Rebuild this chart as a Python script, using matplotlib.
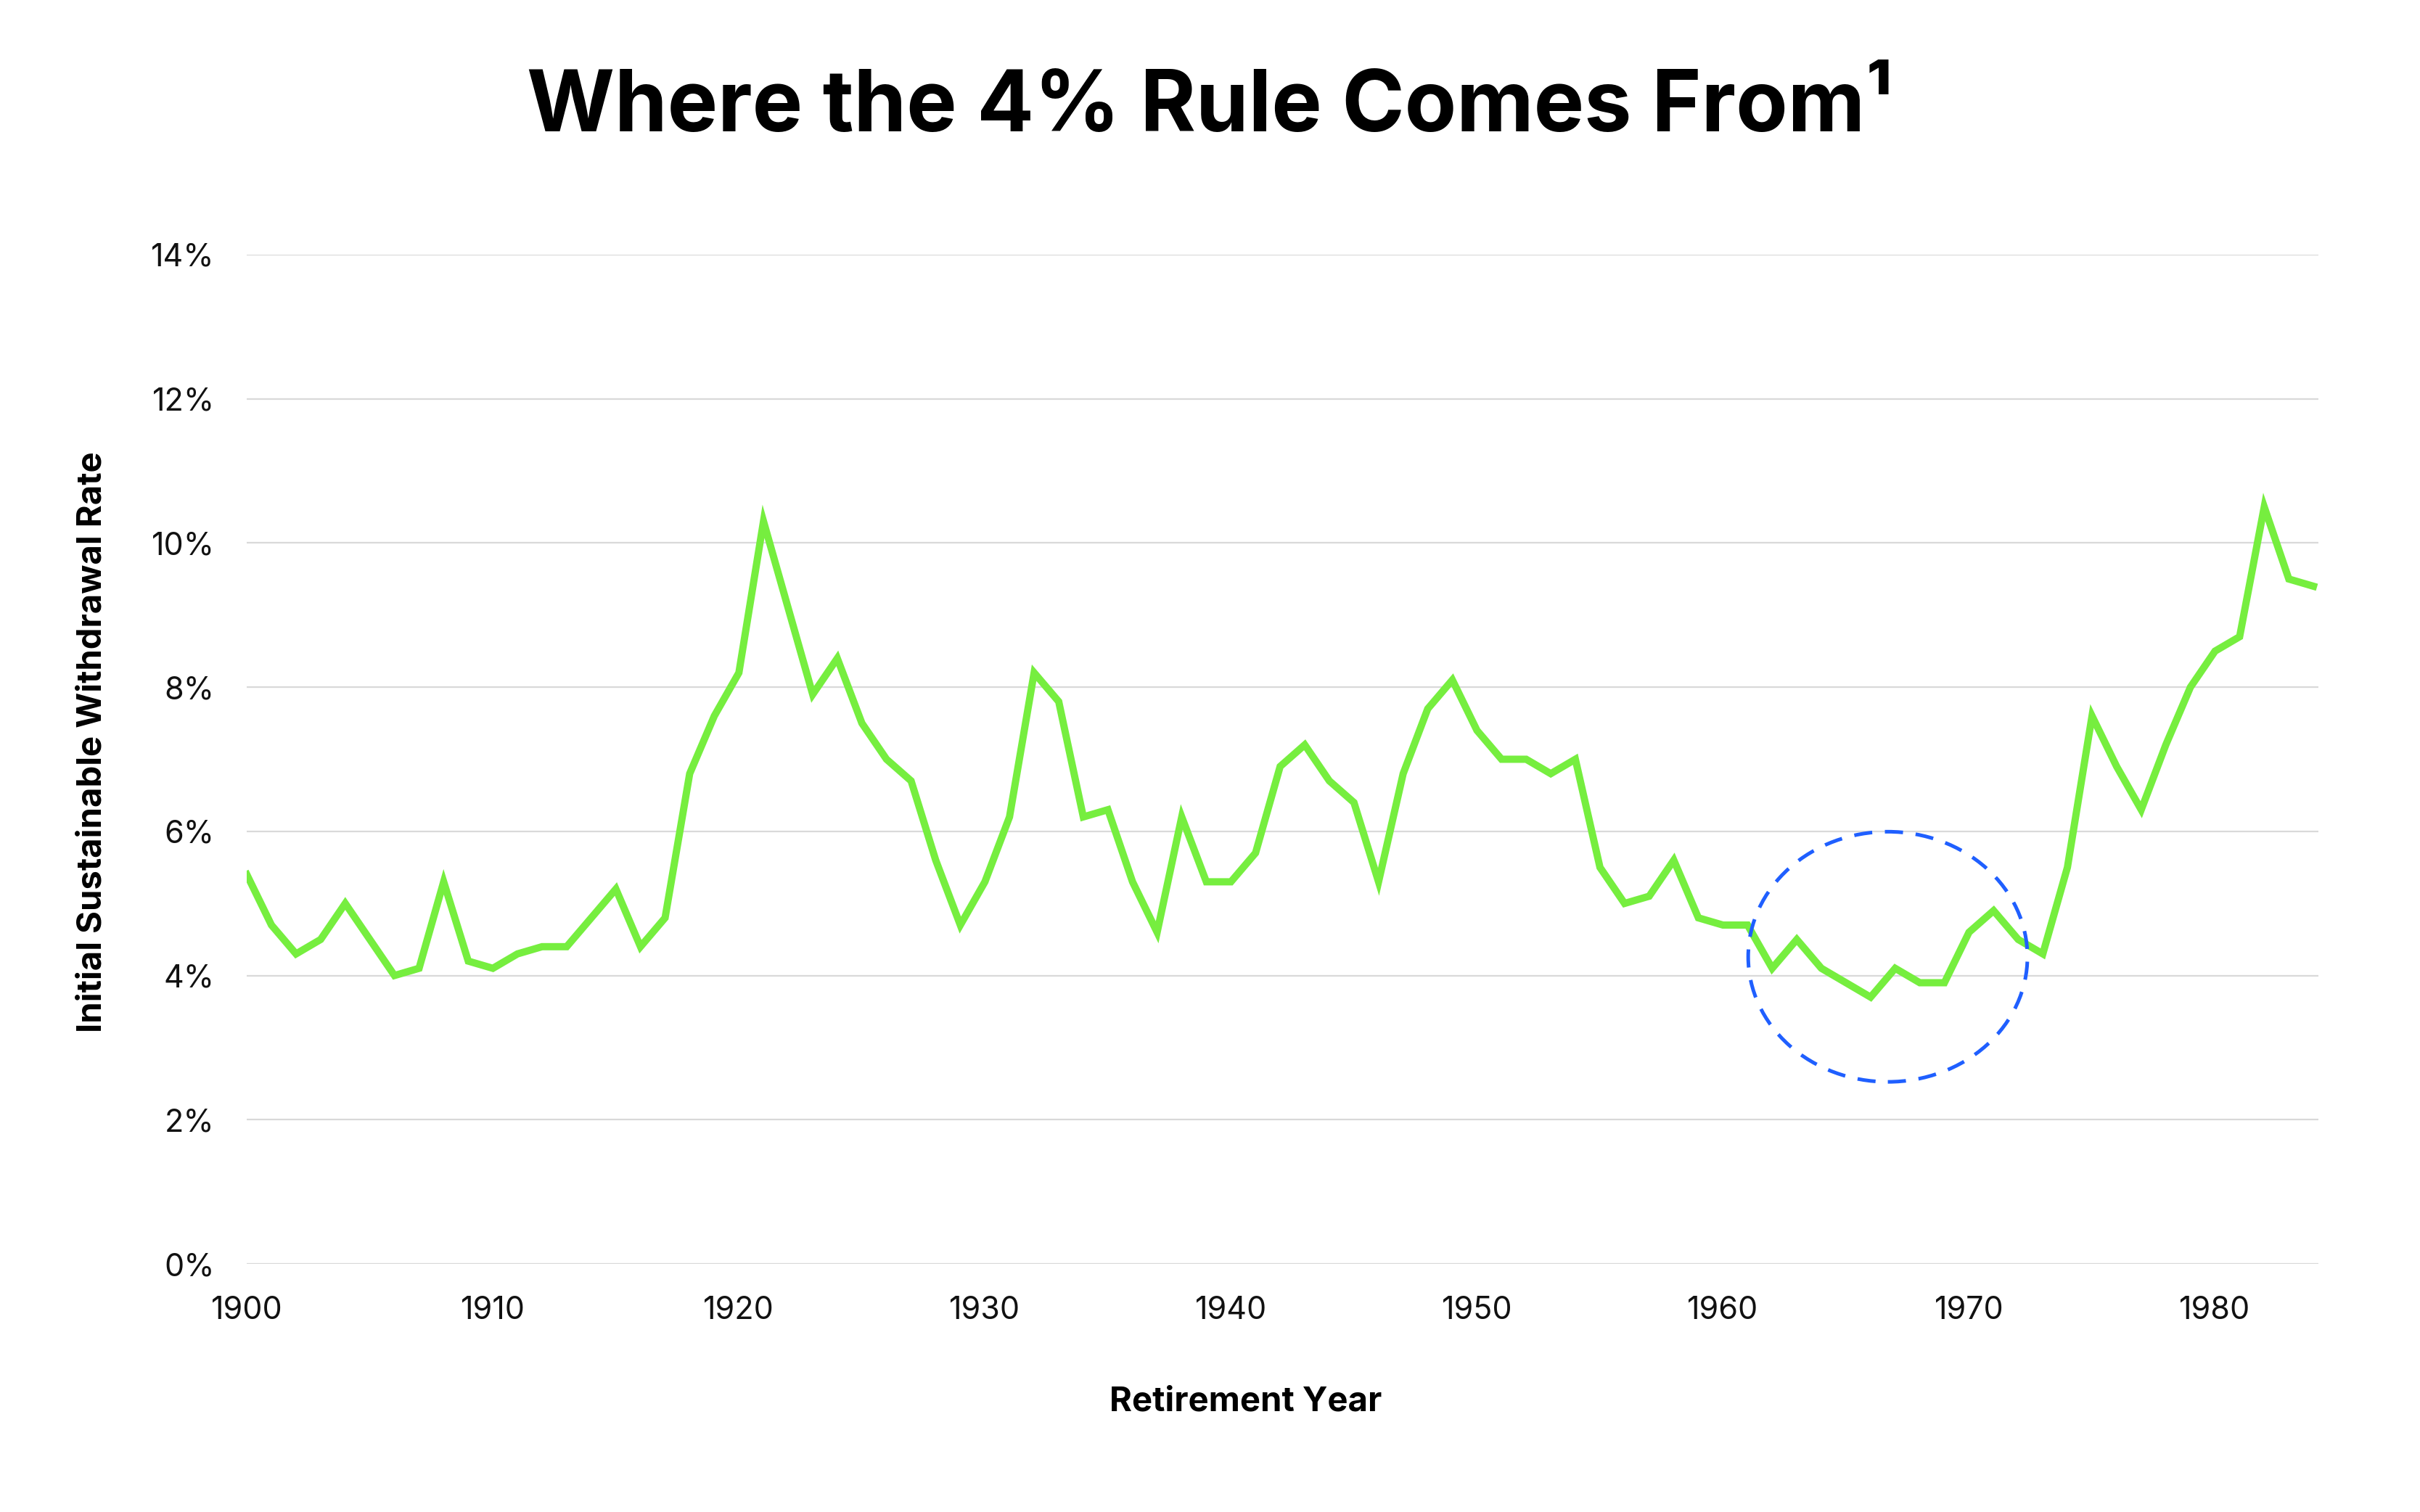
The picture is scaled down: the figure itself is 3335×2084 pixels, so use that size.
import matplotlib
matplotlib.use("Agg")
import matplotlib.pyplot as plt
from matplotlib.patches import Ellipse
from matplotlib.ticker import FuncFormatter

# ── Data ───────────────────────────────────────────────────────────────────────
years = list(range(1900, 1985))
rates = [
    5.4, 4.7, 4.3, 4.5, 5.0, 4.5, 4.0, 4.1, 5.3, 4.2,   # 1900s
    4.1, 4.3, 4.4, 4.4, 4.8, 5.2, 4.4, 4.8, 6.8, 7.6,   # 1910s
    8.2, 10.3, 9.1, 7.9, 8.4, 7.5, 7.0, 6.7, 5.6, 4.7,  # 1920s
    5.3, 6.2, 8.2, 7.8, 6.2, 6.3, 5.3, 4.6, 6.2, 5.3,   # 1930s
    5.3, 5.7, 6.9, 7.2, 6.7, 6.4, 5.3, 6.8, 7.7, 8.1,   # 1940s
    7.4, 7.0, 7.0, 6.8, 7.0, 5.5, 5.0, 5.1, 5.6, 4.8,   # 1950s
    4.7, 4.7, 4.1, 4.5, 4.1, 3.9, 3.7, 4.1, 3.9, 3.9,   # 1960s
    4.6, 4.9, 4.5, 4.3, 5.5, 7.6, 6.9, 6.3, 7.2, 8.0,   # 1970s
    8.5, 8.7, 10.5, 9.5, 9.4,                           # 1980s
]
x_ticks = list(range(1900, 1990, 10))
y_ticks = list(range(0, 16, 2))

# highlighted region (the ~4% trough of the 1960s)
circle_center = (1966.7, 4.26)
circle_size = (11.35, 3.47)

GREEN = "#76ee3f"
BLUE = "#1f5fff"
GRID = "#d9d9d9"

plt.rcParams["font.family"] = ["Inter", "DejaVu Sans"]

fig = plt.figure(figsize=(16.675, 10.42), dpi=200)
ax = fig.add_axes([0.102, 0.1641, 0.856, 0.6675])

ax.plot(years, rates, color=GREEN, lw=3.6, solid_joinstyle="miter", zorder=3)

ax.add_patch(Ellipse(circle_center, circle_size[0], circle_size[1], fill=False,
                     edgecolor=BLUE, lw=1.8, ls=(0, (5, 3.5)), zorder=4))

ax.set_xlim(1900, 1984.2)
ax.set_ylim(0, 14)
ax.set_xticks(x_ticks)
ax.set_yticks(y_ticks)
ax.yaxis.set_major_formatter(FuncFormatter(lambda v, _: f"{v:.0f}%"))
ax.grid(axis="y", color=GRID, lw=0.8, zorder=0)
ax.set_axisbelow(True)
for s in ax.spines.values():
    s.set_visible(False)
ax.tick_params(length=0, labelsize=15.5, pad=16, colors="#111111")

ax.set_xlabel("Retirement Year", fontsize=17, fontweight="bold", labelpad=30)
ax.set_ylabel("Initial Sustainable Withdrawal Rate", fontsize=17,
              fontweight="bold", labelpad=21)
ax.xaxis.label.set_x(0.482)
ax.yaxis.label.set_y(0.517)

fig.text(0.5, 0.928, "Where the 4% Rule Comes From\u00b9", ha="center",
         va="center", fontsize=42, fontweight="bold")

fig.savefig("out.png", dpi=200, facecolor="white")
